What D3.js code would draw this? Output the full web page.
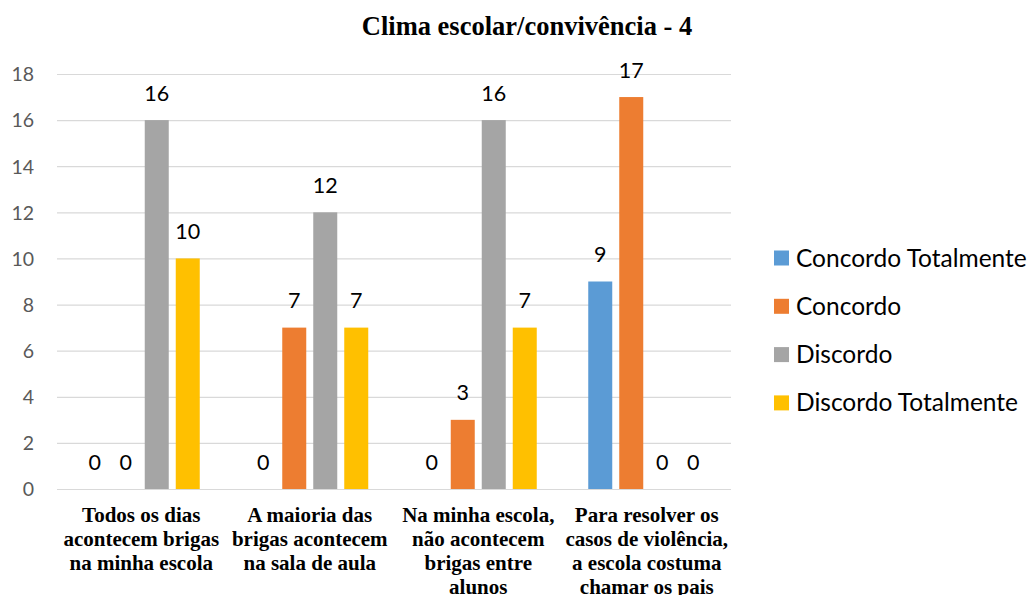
<!DOCTYPE html>
<html>
<head>
<meta charset="utf-8">
<script src="https://cdn.jsdelivr.net/npm/d3@7"></script>
<style>
  body { margin: 0; background: #fff; }
  svg { display: block; }
</style>
</head>
<body>
<svg id="chart" width="1033" height="595"></svg>
<script>
const title = "Clima escolar/convivência - 4";
const categories = [
  ["Todos os dias", "acontecem brigas", "na minha escola"],
  ["A maioria das", "brigas acontecem", "na sala de aula"],
  ["Na minha escola,", "não acontecem", "brigas entre", "alunos"],
  ["Para resolver os", "casos de violência,", "a escola costuma", "chamar os pais"]
];
const seriesNames = ["Concordo Totalmente", "Concordo", "Discordo", "Discordo Totalmente"];
const seriesColors = ["#5B9BD5", "#ED7D31", "#A5A5A5", "#FFC000"];
const concordoTotalmente = [0, 0, 0, 9];
const concordo = [0, 7, 3, 17];
const discordo = [16, 12, 16, 0];
const discordoTotalmente = [10, 7, 7, 0];
const seriesValues = [concordoTotalmente, concordo, discordo, discordoTotalmente];
// a zero value is only labelled where the series is shown in that group
const zeroLabelShown = [
  [true, true, false, false],
  [true, false, false, false],
  [true, false, false, false],
  [false, false, true, true]
];
const yTicks = [0, 2, 4, 6, 8, 10, 12, 14, 16, 18];

const svg = d3.select("#chart");
const plot = { left: 57, right: 731, top: 74, bottom: 489 };

const x0 = d3.scaleBand().domain(d3.range(categories.length))
  .range([plot.left, plot.right]).paddingInner(0).paddingOuter(0);
const groupW = 117;
const x1 = d3.scaleBand().domain(d3.range(seriesNames.length))
  .range([0, groupW]).paddingInner(7 / 31).paddingOuter(0);
const y = d3.scaleLinear().domain([0, 18]).range([plot.bottom, plot.top]);

// gridlines
svg.append("g").selectAll("line").data(yTicks).join("line")
  .attr("x1", plot.left).attr("x2", plot.right)
  .attr("y1", d => y(d) + 0.5).attr("y2", d => y(d) + 0.5)
  .attr("stroke", "#D9D9D9").attr("stroke-width", 1.2);

// y axis labels
const yAxis = d3.axisLeft(y).tickValues(yTicks).tickSize(0).tickPadding(0);
const yg = svg.append("g").attr("transform", `translate(34,0)`).call(yAxis);
yg.select(".domain").remove();
yg.selectAll("text").attr("font-family", "Lato, sans-serif").attr("font-size", 19.5)
  .attr("fill", "#595959").attr("dy", "0.35em");

// bars
const groups = svg.append("g").selectAll("g").data(categories).join("g")
  .attr("transform", (d, i) => `translate(${x0(i) + (x0.bandwidth() - groupW) / 2},0)`);

groups.each(function (cat, ci) {
  const g = d3.select(this);
  seriesNames.forEach((s, si) => {
    const v = seriesValues[si][ci];
    if (v > 0) {
      g.append("rect")
        .attr("x", x1(si)).attr("width", x1.bandwidth())
        .attr("y", y(v)).attr("height", y(0) - y(v))
        .attr("fill", seriesColors[si]);
    }
    if (v > 0 || zeroLabelShown[ci][si]) {
      g.append("text")
        .attr("x", x1(si) + x1.bandwidth() / 2)
        .attr("y", y(v) - 19.5)
        .attr("text-anchor", "middle")
        .attr("font-family", "Lato, sans-serif").attr("font-size", 21.5)
        .attr("fill", "#000")
        .text(v);
    }
  });
});

// category labels
svg.append("g").selectAll("text").data(categories).join("text")
  .attr("x", (d, i) => x0(i) + x0.bandwidth() / 2)
  .attr("y", 522)
  .attr("text-anchor", "middle")
  .attr("font-family", "'Liberation Serif', 'Times New Roman', serif")
  .attr("font-weight", "bold").attr("font-size", 21)
  .each(function (lines) {
    d3.select(this).selectAll("tspan").data(lines).join("tspan")
      .attr("x", d3.select(this).attr("x"))
      .attr("dy", (d, i) => i === 0 ? 0 : 24)
      .text(d => d);
  });

// title
svg.append("text").attr("x", 527).attr("y", 35)
  .attr("text-anchor", "middle")
  .attr("font-family", "'Liberation Serif', 'Times New Roman', serif")
  .attr("font-weight", "bold").attr("font-size", 26.5)
  .text(title);

// legend
const legend = svg.append("g").selectAll("g").data(seriesNames).join("g")
  .attr("transform", (d, i) => `translate(774,${258 + i * 48.3})`);
legend.append("rect").attr("x", 0).attr("y", -7.5).attr("width", 15).attr("height", 15)
  .attr("fill", (d, i) => seriesColors[i]);
legend.append("text").attr("x", 22).attr("y", 0).attr("dy", "0.35em")
  .attr("font-family", "Lato, sans-serif").attr("font-size", 24.5)
  .attr("fill", "#000").text(d => d);
</script>
</body>
</html>
